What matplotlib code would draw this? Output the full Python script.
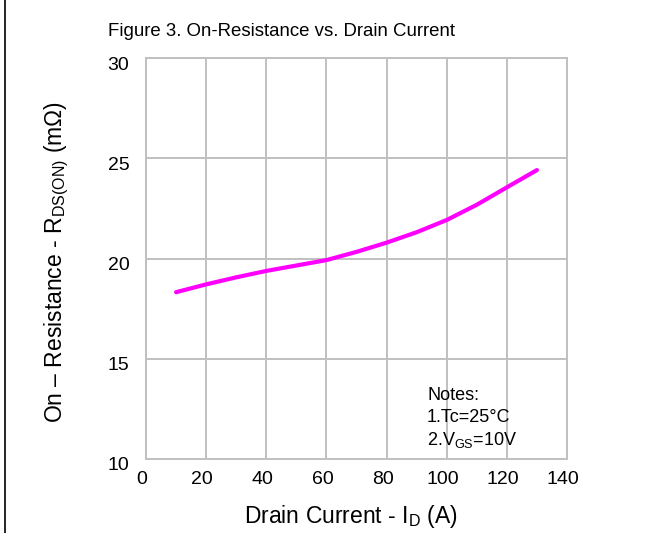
import matplotlib
matplotlib.use("Agg")
import matplotlib.pyplot as plt
import matplotlib.transforms as mtransforms
from matplotlib.lines import Line2D

plt.rcParams['font.family'] = ['Liberation Sans', 'DejaVu Sans']
plt.rcParams['mathtext.fontset'] = 'custom'
plt.rcParams['mathtext.rm'] = 'Liberation Sans'
plt.rcParams['mathtext.it'] = 'Liberation Sans'

# Data
drain_current = [10, 20, 30, 40, 50, 60, 70, 80, 90, 100, 110, 120, 125, 130]
on_resistance = [18.32, 18.71, 19.06, 19.38, 19.65, 19.92, 20.33, 20.79, 21.31, 21.92, 22.68, 23.55, 23.98, 24.41]
x_ticks = [0, 20, 40, 60, 80, 100, 120, 140]
y_ticks = [10, 15, 20, 25, 30]

W, H = 653, 533
fig = plt.figure(figsize=(W / 100, H / 100), dpi=100)
ax = fig.add_axes([146 / W, 1 - 459 / H, (567 - 146) / W, (459 - 58) / H])

ax.plot(drain_current, on_resistance, color='#ff00ff', lw=3, solid_capstyle='round',
        solid_joinstyle='round', zorder=3)

ax.set_xlim(0, 140)
ax.set_ylim(10, 30)
ax.set_xticks(x_ticks)
ax.set_yticks(y_ticks)
ax.grid(True, color='#c0c0c0', lw=1.4)
ax.set_axisbelow(True)
for s in ax.spines.values():
    s.set_color('#c0c0c0')
    s.set_linewidth(1.4)
ax.tick_params(length=0, labelsize=14, pad=9, colors='black')
ax.tick_params(axis='y', pad=12)

# small offsets for tick labels like the reference
dx = mtransforms.ScaledTranslation(-4 / 100, 0, fig.dpi_scale_trans)
for lab in ax.get_xticklabels():
    lab.set_transform(lab.get_transform() + dx)
dy = mtransforms.ScaledTranslation(0, -5 / 100, fig.dpi_scale_trans)
for lab in ax.get_yticklabels():
    lab.set_transform(lab.get_transform() + dy)

fig.text(281 / W, 1 - 31 / H, 'Figure 3. On-Resistance vs. Drain Current',
         ha='center', va='center', fontsize=13.4)
fig.text(351 / W, 1 - 516 / H, r'Drain Current - I$_{\mathrm{D}}$ (A)',
         ha='center', va='center', fontsize=16.5)
fig.text(57 / W, 1 - 262 / H, r'On – Resistance - R$_{\mathrm{DS(ON)}}$ (m$\Omega$)',
         ha='center', va='center', rotation=90, fontsize=16.5)

notes = ['Notes:', '1.Tc=25°C', r'2.V$_{\mathrm{GS}}$=10V']
for i, t in enumerate(notes):
    fig.text(427 / W, 1 - (395 + 22.5 * i) / H, t, ha='left', va='center', fontsize=13)

fig.add_artist(Line2D([5 / W, 5 / W], [0, 1], color='black', lw=1.2, transform=fig.transFigure))

fig.savefig('out.png', dpi=100)
